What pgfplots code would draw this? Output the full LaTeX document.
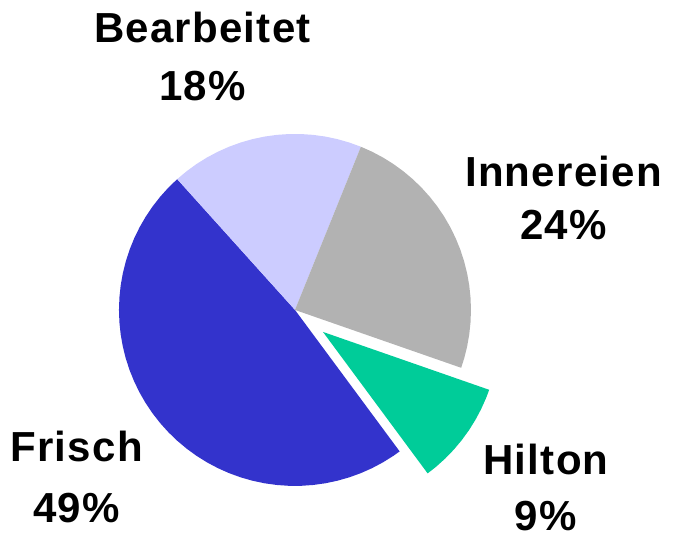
\documentclass[border=0pt]{standalone}
\usepackage{pgfplots}
\pgfplotsset{compat=1.18}
\usepgfplotslibrary{polar}
\usepackage{fontspec}
\setmainfont{Liberation Sans}[LetterSpace=3]

\definecolor{frisch}{HTML}{3333CC}
\definecolor{bearb}{HTML}{CCCCFF}
\definecolor{inner}{HTML}{B2B2B2}
\definecolor{hilton}{HTML}{00CC99}

\tikzset{lbl/.style={font=\fontsize{21bp}{28.5bp}\selectfont\bfseries, anchor=base, inner sep=0pt}}

\begin{document}
\begin{tikzpicture}
\begin{axis}[
    hide axis,
    scale only axis,
    x=88bp, y=88bp,
    xmin=-1.676, xmax=2.148,
    ymin=-1.290, ymax=1.761,
    clip=false,
]
% slices as (angle, radius), radius 1
% Frisch 49%
\addplot[draw=none, fill=frisch, data cs=polar] coordinates {
    (0,0) (132,1) (136,1) (140,1) (144,1) (148,1) (152,1) (156,1) (160,1)
    (164,1) (168,1) (172,1) (176,1) (180,1) (184,1) (188,1) (192,1) (196,1)
    (200,1) (204,1) (208,1) (212,1) (216,1) (220,1) (224,1) (228,1) (232,1)
    (236,1) (240,1) (244,1) (248,1) (252,1) (256,1) (260,1) (264,1) (268,1)
    (272,1) (276,1) (280,1) (284,1) (288,1) (292,1) (296,1) (300,1) (304,1)
    (306.5,1) (0,0)
} \closedcycle;
% Bearbeitet 18%
\addplot[draw=none, fill=bearb, data cs=polar] coordinates {
    (0,0) (68,1) (72,1) (76,1) (80,1) (84,1) (88,1) (92,1) (96,1) (100,1)
    (104,1) (108,1) (112,1) (116,1) (120,1) (124,1) (128,1) (132,1) (0,0)
} \closedcycle;
% Innereien 24%
\addplot[draw=none, fill=inner, data cs=polar] coordinates {
    (0,0) (-19.2,1) (-16,1) (-12,1) (-8,1) (-4,1) (0,1) (4,1) (8,1) (12,1)
    (16,1) (20,1) (24,1) (28,1) (32,1) (36,1) (40,1) (44,1) (48,1) (52,1)
    (56,1) (60,1) (64,1) (68,1) (0,0)
} \closedcycle;
% Hilton 9% (pulled out)
\addplot[draw=none, fill=hilton, data cs=polar, xshift=14bp, yshift=-11bp] coordinates {
    (0,0) (-53.5,1) (-50,1) (-46,1) (-42,1) (-38,1) (-34,1) (-30,1) (-26,1)
    (-22,1) (-19.2,1) (0,0)
} \closedcycle;

\node[lbl] at (axis cs:-0.526,1.517) {Bearbeitet};
\node[lbl] at (axis cs:-0.526,1.190) {18\%};
\node[lbl] at (axis cs:1.526,0.699) {Innereien};
\node[lbl] at (axis cs:1.526,0.398) {24\%};
\node[lbl] at (axis cs:1.426,-0.9375) {Hilton};
\node[lbl] at (axis cs:1.426,-1.252) {9\%};
\node[lbl] at (axis cs:-1.241,-0.864) {Frisch};
\node[lbl] at (axis cs:-1.241,-1.205) {49\%};

\path (axis cs:-1.676,-1.290) rectangle (axis cs:2.148,1.761);
\end{axis}
\end{tikzpicture}
\end{document}
